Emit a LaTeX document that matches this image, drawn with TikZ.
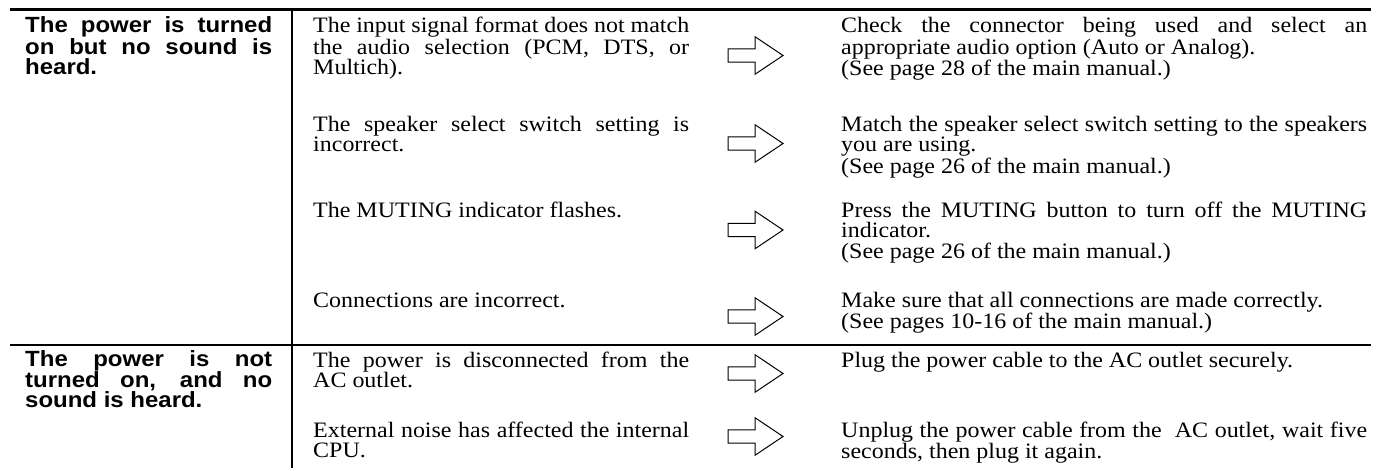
\documentclass[tikz,border=0pt]{standalone}
\usepackage{fontspec}
\setmainfont{Liberation Serif}[FakeStretch=1.09]
\newfontfamily\probfont{Liberation Sans}[FakeStretch=1.09]
\hyphenpenalty=10000
\exhyphenpenalty=10000
\tolerance=9999
\hbadness=10000
\hfuzz=5pt
\begin{document}
\begin{tikzpicture}[x=1pt,y=-1pt,
  rulethick/.style={line width=2.6pt},
  rulemid/.style={line width=2.2pt},
  probcell/.style={anchor=base west, inner sep=0pt, text width=247pt, align=justify,
    font=\probfont\bfseries\fontsize{22}{19.5}\selectfont},
  causecell/.style={anchor=base west, inner sep=0pt, text width=376pt, align=justify,
    font=\fontsize{22}{20}\selectfont},
  fixcell/.style={anchor=base west, inner sep=0pt, text width=526pt, align=justify,
    font=\fontsize{22}{20}\selectfont},
  harrow/.pic={\draw[line width=1pt, line join=miter, fill=white]
    (0,-6.7) -- (27,-6.7) -- (27,-18.8) -- (55,0) -- (27,18.8) -- (27,6.7) -- (0,6.7) -- cycle;}
]
\useasboundingbox (0,0) rectangle (1374,468);

% rules
\coordinate (tl) at (10,9.5);
\coordinate (tr) at (1371,9.5);
\coordinate (ml) at (10,345);
\coordinate (mr) at (1371,345);
\coordinate (vt) at (292,9.5);
\coordinate (vb) at (292,468);
\draw[rulethick] (tl) -- (tr);
\draw[rulemid] (ml) -- (mr);
\draw[rulemid] (vt) -- (vb);

% problem column
\node[probcell] (p1) at (25,33) {The power is turned\linebreak on but no sound is\linebreak heard.};
\node[probcell] (p2) at (25,366) {The power is not\linebreak turned on, and no\linebreak sound is heard.};

% causes
\node[causecell] (c1) at (313,33) {The input signal format does not match\linebreak the audio selection (PCM, DTS, or\linebreak Multich).};
\node[causecell] (c2) at (313,132) {The speaker select switch setting is\linebreak incorrect.};
\node[causecell] (c3) at (313,218) {The MUTING indicator flashes.};
\node[causecell] (c4) at (313,307) {Connections are incorrect.};
\node[causecell] (c5) at (313,367) {The power is disconnected from the\linebreak AC outlet.};
\node[causecell] (c6) at (313,437) {External noise has affected the internal\linebreak CPU.};

% fixes
\node[fixcell] (f1) at (841,33) {Check the connector being used and select an\linebreak appropriate audio option (Auto or Analog).\\(See page 28 of the main manual.)};
\node[fixcell] (f2) at (841,132) {Match the speaker select switch setting to the speakers\linebreak you are using.\\(See page 26 of the main manual.)};
\node[fixcell] (f3) at (841,218) {Press the MUTING button to turn off the MUTING\linebreak indicator.\\(See page 26 of the main manual.)};
\node[fixcell] (f4) at (841,307) {Make sure that all connections are made correctly.\\(See pages 10-16 of the main manual.)};
\node[fixcell] (f5) at (841,367) {Plug the power cable to the AC outlet securely.};
\node[fixcell] (f6) at (841,437) {Unplug the power cable from the\ \ AC outlet, wait five\linebreak seconds, then plug it again.};

% arrows
\pic (a1) at (728,55.5) {harrow};
\pic (a2) at (728,143.5) {harrow};
\pic (a3) at (728,230) {harrow};
\pic (a4) at (728,316.5) {harrow};
\pic (a5) at (728,373.5) {harrow};
\pic (a6) at (728,436.5) {harrow};
\end{tikzpicture}
\end{document}
